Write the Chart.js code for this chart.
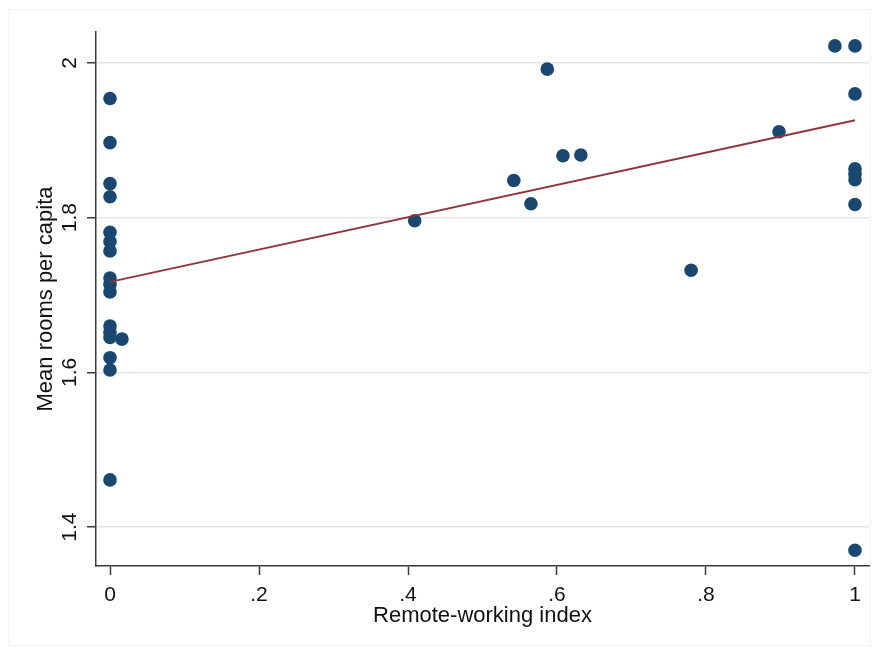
<!DOCTYPE html>
<html>
<head>
<meta charset="utf-8">
<script src="https://cdn.jsdelivr.net/npm/chart.js@4.4.1/dist/chart.umd.min.js"></script>
<style>
  html, body { margin: 0; padding: 0; background: #fff; }
  #wrap { width: 877px; height: 650px; }
</style>
</head>
<body>
<div id="wrap"><canvas id="c" width="877" height="650"></canvas></div>
<script>
// remote-working index vs mean rooms per capita
const remoteIdx = [0, 0, 0, 0, 0, 0, 0, 0, 0, 0, 0, 0, 0, 0, 0, 0,
  0.016, 0.409, 0.542, 0.565, 0.587, 0.608, 0.632, 0.780, 0.898, 0.973,
  1, 1, 1, 1, 1, 1, 1]
const roomsPerCap = [1.954, 1.897, 1.844, 1.827, 1.781, 1.769, 1.757, 1.722, 1.714, 1.704,
  1.660, 1.652, 1.645, 1.619, 1.603, 1.461,
  1.643, 1.796, 1.848, 1.818, 1.992, 1.880, 1.881, 1.732, 1.911, 2.022,
  2.022, 1.960, 1.863, 1.856, 1.849, 1.817, 1.370]

// fitted line end points
const fitX = [0, 1]
const fitY = [1.717, 1.926]

const xTicks = [0, 0.2, 0.4, 0.6, 0.8, 1]
const xTickLabels = ['0', '.2', '.4', '.6', '.8', '1']
const yTicks = [1.4, 1.6, 1.8, 2]
const yTickLabels = ['1.4', '1.6', '1.8', '2']

const navy = '#1a476f'
const maroon = '#90353b'
const axisCol = '#3a3a3a'
const font = 'Liberation Sans, Arial, sans-serif'

const frame = {
  id: 'frame',
  beforeDraw(chart) {
    const ctx = chart.ctx
    ctx.save()
    ctx.fillStyle = '#fff'
    ctx.fillRect(0, 0, chart.width, chart.height)
    ctx.strokeStyle = '#f3f3f3'
    ctx.lineWidth = 1
    ctx.strokeRect(8.5, 9.5, 862, 636)
    ctx.restore()
  }
}

let ctx = document.getElementById('c').getContext('2d')

new Chart(ctx, {
  type: 'scatter',
  data: {
    datasets: [{
      type: 'line',
      data: fitX.map((x, i) => ({ x: x, y: fitY[i] })),
      borderColor: maroon,
      borderWidth: 2,
      pointRadius: 0,
      fill: false,
      order: 1
    }, {
      data: remoteIdx.map((x, i) => ({ x: x, y: roomsPerCap[i] })),
      backgroundColor: navy,
      borderColor: navy,
      borderWidth: 0,
      pointRadius: 6.8,
      order: 2
    }]
  },
  options: {
    responsive: false,
    animation: false,
    layout: { padding: { left: 0, right: 8, top: 32, bottom: 0 } },
    plugins: { legend: { display: false }, tooltip: { enabled: false } },
    scales: {
      x: {
        type: 'linear',
        min: -0.0188,
        max: 1.0188,
        afterBuildTicks: (s) => { s.ticks = xTicks.map(v => ({ value: v })) },
        afterFit: (s) => { s.height = 84 },
        border: { color: axisCol, width: 1.5 },
        grid: { drawOnChartArea: false, tickColor: axisCol, tickLength: 9, tickWidth: 1.5 },
        ticks: {
          color: '#111',
          font: { family: font, size: 21 },
          padding: 8,
          maxRotation: 0,
          callback: (v) => xTickLabels[xTicks.indexOf(v)]
        },
        title: {
          display: true,
          text: 'Remote-working index',
          color: '#111',
          font: { family: font, size: 22 },
          padding: { top: 0, bottom: 21 }
        }
      },
      y: {
        type: 'linear',
        min: 1.3497,
        max: 2.04,
        afterBuildTicks: (s) => { s.ticks = yTicks.map(v => ({ value: v })) },
        afterFit: (s) => { s.width = 96 },
        border: { color: axisCol, width: 1.5 },
        grid: { color: '#e6e6e6', lineWidth: 1.5, tickColor: axisCol, tickLength: 9, tickWidth: 1.5 },
        ticks: {
          color: '#111',
          font: { family: font, size: 21 },
          padding: 2,
          minRotation: 90,
          maxRotation: 90,
          crossAlign: 'center',
          callback: (v) => yTickLabels[yTicks.indexOf(v)]
        },
        title: {
          display: true,
          text: 'Mean rooms per capita',
          color: '#111',
          font: { family: font, size: 22 },
          padding: { top: 33, bottom: 0 }
        }
      }
    }
  },
  plugins: [frame]
});
</script>
</body>
</html>
